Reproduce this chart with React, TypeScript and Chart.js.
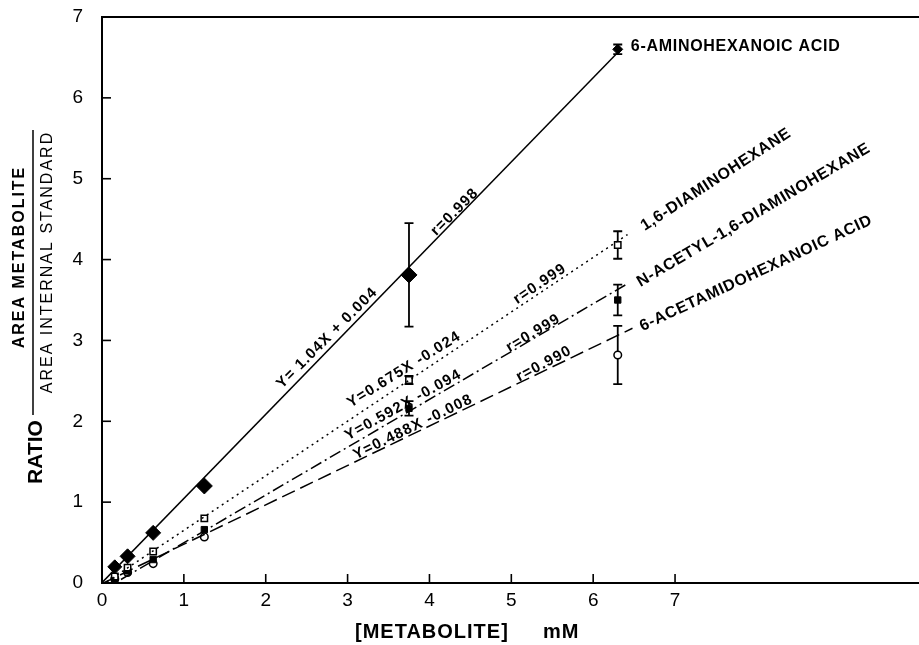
import React, { useEffect, useRef } from 'react';
import { Chart, registerables } from 'chart.js';

Chart.register(...registerables);

// ---- data ----
const concentrations = [0.156, 0.3125, 0.625, 1.25, 3.75, 6.3];

const aminohexanoicRatio = [0.2, 0.33, 0.62, 1.2, 3.81, 6.6];
const aminohexanoicErr = [0, 0, 0, 0, 0.64, 0.06];

const diaminohexaneRatio = [0.08, 0.19, 0.39, 0.8, 2.51, 4.18];
const diaminohexaneErr = [0, 0, 0, 0, 0.05, 0.17];

const acetylDiaminohexaneRatio = [0.05, 0.15, 0.29, 0.66, 2.16, 3.5];
const acetylDiaminohexaneErr = [0, 0, 0, 0, 0.09, 0.19];

const acetamidohexanoicRatio = [0.05, 0.13, 0.24, 0.57, null, 2.82];
const acetamidohexanoicErr = [0, 0, 0, 0, 0, 0.36];

// regression lines (end points)
const fitAminohexanoic = [[0, 0.004], [6.3, 6.56]];
const fitDiaminohexane = [[0, -0.024], [6.42, 4.31]];
const fitAcetylDiaminohexane = [[0, -0.094], [6.4, 3.69]];
const fitAcetamidohexanoic = [[0, -0.008], [6.48, 3.15]];

const xTickValues = [0, 1, 2, 3, 4, 5, 6, 7];
const yTickValues = [0, 1, 2, 3, 4, 5, 6, 7];

const seriesLabels = [
  { text: '6-AMINOHEXANOIC ACID', x: 6.46, y: 6.63, angle: 0, align: 'left' },
  { text: '1,6-DIAMINOHEXANE', x: 7.5, y: 4.99, angle: -33, align: 'center' },
  { text: 'N-ACETYL-1,6-DIAMINOHEXANE', x: 7.96, y: 4.55, angle: -30.5, align: 'center' },
  { text: '6-ACETAMIDOHEXANOIC ACID', x: 7.99, y: 3.83, angle: -25, align: 'center' },
];

const equationLabels = [
  { text: 'Y= 1.04X + 0.004', x: 2.75, y: 3.03, angle: -45 },
  { text: 'r=0.998', x: 4.31, y: 4.59, angle: -45 },
  { text: 'Y=0.675X -0.024', x: 3.69, y: 2.64, angle: -32 },
  { text: 'r=0.999', x: 5.35, y: 3.7, angle: -34 },
  { text: 'Y=0.592X -0.094', x: 3.68, y: 2.2, angle: -29 },
  { text: 'r=0.999', x: 5.27, y: 3.09, angle: -31 },
  { text: 'Y=0.488X -0.008', x: 3.8, y: 1.93, angle: -26 },
  { text: 'r=0.990', x: 5.4, y: 2.71, angle: -28 },
];

const FONT = "'Liberation Sans', Arial, Helvetica, sans-serif";

const toPoints = (xs: number[], ys: (number | null)[]) =>
  xs.map((x, i) => ({ x, y: ys[i] }));
const linePts = (pts: number[][]) => pts.map(([x, y]) => ({ x, y }));

function drawText(
  ctx: any,
  text: string,
  px: number,
  py: number,
  angle: number,
  font: string,
  spacing: string,
  align: string = 'center'
) {
  ctx.save();
  ctx.translate(px, py);
  ctx.rotate((angle * Math.PI) / 180);
  ctx.font = font;
  try {
    ctx.letterSpacing = spacing;
  } catch (e) {}
  ctx.textAlign = align;
  ctx.textBaseline = 'middle';
  ctx.fillStyle = '#000';
  ctx.fillText(text, 0, 0);
  ctx.restore();
}

const zeroPadding = (s: any) => {
  s.paddingTop = 0;
  s.paddingBottom = 0;
  s.paddingLeft = 0;
  s.paddingRight = 0;
};

const overlayPlugin = {
  id: 'overlay',
  beforeDatasetsDraw(chart: any) {
    const { ctx, scales } = chart;
    const xs = scales.x;
    const ys = scales.y;
    const sets = [
      [aminohexanoicRatio, aminohexanoicErr],
      [diaminohexaneRatio, diaminohexaneErr],
      [acetylDiaminohexaneRatio, acetylDiaminohexaneErr],
      [acetamidohexanoicRatio, acetamidohexanoicErr],
    ];
    ctx.save();
    ctx.strokeStyle = '#000';
    ctx.lineWidth = 1.8;
    sets.forEach(([vals, errs]: any) => {
      vals.forEach((v: number | null, i: number) => {
        const e = errs[i];
        if (v === null || !e) return;
        const px = xs.getPixelForValue(concentrations[i]);
        const top = ys.getPixelForValue(v + e);
        const bot = ys.getPixelForValue(v - e);
        ctx.beginPath();
        ctx.moveTo(px, top);
        ctx.lineTo(px, bot);
        ctx.moveTo(px - 4.5, top);
        ctx.lineTo(px + 4.5, top);
        ctx.moveTo(px - 4.5, bot);
        ctx.lineTo(px + 4.5, bot);
        ctx.stroke();
      });
    });
    ctx.restore();
  },
  afterDraw(chart: any) {
    const { ctx, chartArea, scales } = chart;
    const xs = scales.x;
    const ys = scales.y;
    ctx.save();
    ctx.strokeStyle = '#000';
    ctx.lineWidth = 2;
    // top border and bottom axis extended to the canvas edge
    ctx.beginPath();
    ctx.moveTo(chartArea.left, chartArea.top);
    ctx.lineTo(chart.width, chartArea.top);
    ctx.moveTo(chartArea.left, chartArea.bottom);
    ctx.lineTo(chart.width, chartArea.bottom);
    ctx.stroke();
    // inward ticks
    ctx.lineWidth = 1.6;
    xTickValues.forEach((v) => {
      const px = xs.getPixelForValue(v);
      ctx.beginPath();
      ctx.moveTo(px, chartArea.bottom);
      ctx.lineTo(px, chartArea.bottom - 9);
      ctx.stroke();
    });
    yTickValues.forEach((v) => {
      const py = ys.getPixelForValue(v);
      ctx.beginPath();
      ctx.moveTo(chartArea.left, py);
      ctx.lineTo(chartArea.left + 9, py);
      ctx.stroke();
    });
    // fraction line of the y title
    ctx.lineWidth = 1.5;
    ctx.beginPath();
    ctx.moveTo(33, 130);
    ctx.lineTo(33, 415);
    ctx.stroke();
    ctx.restore();

    // axis titles
    drawText(ctx, 'RATIO', 36, 452, -90, `bold 21px ${FONT}`, '0px');
    drawText(ctx, 'AREA METABOLITE', 20, 257, -90, `bold 16px ${FONT}`, '2px');
    drawText(ctx, 'AREA INTERNAL STANDARD', 48, 262, -90, `16px ${FONT}`, '2px');
    drawText(ctx, '[METABOLITE]', 355, 632, 0, `bold 20px ${FONT}`, '1px', 'left');
    drawText(ctx, 'mM', 543, 632, 0, `bold 20px ${FONT}`, '1px', 'left');

    // series labels
    seriesLabels.forEach((l) => {
      drawText(
        ctx,
        l.text,
        xs.getPixelForValue(l.x),
        ys.getPixelForValue(l.y),
        l.angle,
        `bold 16px ${FONT}`,
        '0.7px',
        l.align
      );
    });
    // equation labels
    equationLabels.forEach((l) => {
      drawText(
        ctx,
        l.text,
        xs.getPixelForValue(l.x),
        ys.getPixelForValue(l.y),
        l.angle,
        `bold 15px ${FONT}`,
        '1.2px'
      );
    });
  },
};

export default function App() {
  const ref = useRef<HTMLCanvasElement | null>(null);
  useEffect(() => {
    if (!ref.current) return;
    const fitStyle = {
      type: 'line',
      borderColor: '#000',
      borderWidth: 1.5,
      pointRadius: 0,
      showLine: true,
      fill: false,
      tension: 0,
    };
    const chart = new Chart(ref.current, {
      type: 'scatter',
      data: {
        datasets: [
          { ...fitStyle, label: 'fit1', data: linePts(fitAminohexanoic), borderDash: [] },
          { ...fitStyle, label: 'fit2', data: linePts(fitDiaminohexane), borderDash: [2, 4] },
          { ...fitStyle, label: 'fit3', data: linePts(fitAcetylDiaminohexane), borderDash: [12, 4, 2, 4] },
          { ...fitStyle, label: 'fit4', data: linePts(fitAcetamidohexanoic), borderDash: [14, 6] },
          {
            label: '6-Aminohexanoic acid',
            data: toPoints(concentrations, aminohexanoicRatio),
            pointStyle: 'rectRot',
            pointRadius: [7, 7.5, 7.5, 8, 8, 5],
            backgroundColor: '#000',
            borderColor: '#000',
            borderWidth: 1,
          },
          {
            label: '1,6-Diaminohexane',
            data: toPoints(concentrations, diaminohexaneRatio),
            pointStyle: 'rect',
            pointRadius: 4.5,
            backgroundColor: '#fff',
            borderColor: '#000',
            borderWidth: 1.5,
          },
          {
            label: 'N-Acetyl-1,6-diaminohexane',
            data: toPoints(concentrations, acetylDiaminohexaneRatio),
            pointStyle: 'rect',
            pointRadius: 4.5,
            backgroundColor: '#000',
            borderColor: '#000',
            borderWidth: 1,
          },
          {
            label: '6-Acetamidohexanoic acid',
            data: toPoints(concentrations, acetamidohexanoicRatio),
            pointStyle: 'circle',
            pointRadius: 3.8,
            backgroundColor: '#fff',
            borderColor: '#000',
            borderWidth: 1.5,
          },
        ],
      } as any,
      options: {
        animation: false,
        responsive: false,
        layout: { autoPadding: false, padding: { top: 17, left: 0, right: 0, bottom: 0 } },
        plugins: {
          legend: { display: false },
          tooltip: { enabled: false },
          title: { display: false },
        },
        scales: {
          x: {
            type: 'linear',
            min: 0,
            max: 9.98,
            afterBuildTicks: (s: any) => {
              s.ticks = xTickValues.map((v) => ({ value: v }));
            },
            afterFit: (s: any) => {
              s.height = 62;
              zeroPadding(s);
            },
            grid: { display: false, drawTicks: false },
            border: { display: true, color: '#000', width: 2 },
            ticks: {
              color: '#000',
              padding: 6,
              font: { family: FONT, size: 19 },
              maxRotation: 0,
              autoSkip: false,
            },
          },
          y: {
            type: 'linear',
            min: 0,
            max: 7,
            afterBuildTicks: (s: any) => {
              s.ticks = yTickValues.map((v) => ({ value: v }));
            },
            afterFit: (s: any) => {
              s.width = 102;
              zeroPadding(s);
            },
            grid: { display: false, drawTicks: false },
            border: { display: true, color: '#000', width: 2 },
            ticks: {
              color: '#000',
              padding: 19,
              font: { family: FONT, size: 19 },
              autoSkip: false,
            },
          },
        },
      } as any,
      plugins: [overlayPlugin],
    });
    return () => chart.destroy();
  }, []);
  return (
    <div style={{ position: 'absolute', left: 0, top: 0, width: 919, height: 645, background: '#fff' }}>
      <canvas ref={ref} width={919} height={645} style={{ display: 'block' }} />
    </div>
  );
}
